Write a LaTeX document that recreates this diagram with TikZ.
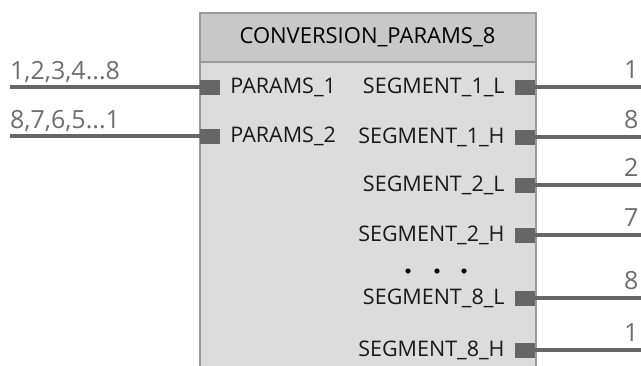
\documentclass[tikz,border=0pt]{standalone}
\usepackage{fontspec}
\setmainfont{Open Sans}
\usetikzlibrary{positioning}
\definecolor{wiregray}{HTML}{666666}
\definecolor{hdrgray}{HTML}{C8C8C8}
\definecolor{bodygray}{HTML}{DCDCDC}
\definecolor{edgegray}{HTML}{9A9A9A}
\definecolor{labgray}{HTML}{6E6E6E}
\tikzset{wire/.style={draw=wiregray, line width=4pt},
  port/.style={fill=wiregray, inner sep=0pt, minimum width=20pt, minimum height=15pt},
  body/.style={draw=edgegray, line width=2pt, fill=bodygray, inner sep=0pt, minimum width=336pt, minimum height=366pt},
  hdr/.style={draw=edgegray, line width=2pt, fill=hdrgray, inner sep=0pt, minimum width=336pt, minimum height=49pt},
  pname/.style={font=\fontsize{21.5}{24}\selectfont, text=black!90, inner sep=0pt},
  wlab/.style={font=\fontsize{25}{28}\selectfont, text=labgray, inner sep=0pt, anchor=base west}}

\begin{document}
\begin{tikzpicture}[x=1pt,y=-1pt]
  \clip (0,0) rectangle (641,365);
  % function block
  \node[body] (conv) at (367.5,196) {};
  \node[hdr, anchor=north] (title) at (conv.north) {\fontsize{22}{25}\selectfont\raisebox{-2pt}{CONVERSION\_PARAMS\_8}};
  % inputs
  \foreach \i/\y/\t in {1/87/{1,2,3,4...8}, 2/136/{8,7,6,5...1}}{
    \node[port] (in\i) at (210,\y) {};
    \node[pname, right=10pt of in\i, anchor=west] (pin\i) {PARAMS\_\i};
    \coordinate (src\i) at (10,\y);
    \draw[wire] (src\i) -- (in\i.west);
    \node[wlab] (lin\i) at (10,\y-8) {\t};}
  % outputs
  \foreach \i/\y/\n/\t in {1/87/1\_L/1, 2/137/1\_H/8, 3/185/2\_L/2, 4/235/2\_H/7, 5/298/8\_L/8, 6/350/8\_H/1}{
    \node[port] (out\i) at (525,\y) {};
    \node[pname, left=10pt of out\i, anchor=east] (pout\i) {SEGMENT\_\n};
    \coordinate (dst\i) at (645,\y);
    \draw[wire] (out\i.east) -- (dst\i);
    \node[wlab] (lout\i) at (624,\y-9) {\t};}
  % ellipsis
  \foreach \x in {408,437,464}
    \fill (\x,271) circle (2.6pt);
\end{tikzpicture}
\end{document}
